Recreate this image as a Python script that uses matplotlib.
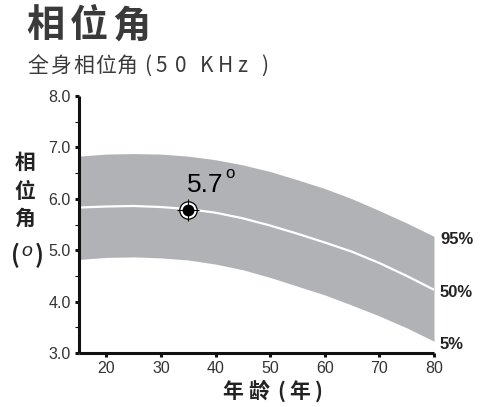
import matplotlib
matplotlib.use("Agg")
import matplotlib.pyplot as plt
from matplotlib.ticker import MultipleLocator, FixedLocator

# ---- data ----
ages = [15, 20, 25, 30, 35, 40, 45, 50, 55, 60, 65, 70, 75, 80]
p95 = [6.83, 6.87, 6.88, 6.87, 6.83, 6.76, 6.66, 6.53, 6.37, 6.20, 6.00, 5.77, 5.53, 5.27]
p50 = [5.83, 5.85, 5.86, 5.84, 5.80, 5.73, 5.62, 5.48, 5.32, 5.15, 4.97, 4.75, 4.50, 4.23]
p05 = [4.82, 4.86, 4.87, 4.85, 4.81, 4.73, 4.62, 4.47, 4.30, 4.13, 3.93, 3.72, 3.49, 3.23]
patient_age = 35
patient_value = 5.78
patient_label = "5.7"
pct_labels = ["95%", "50%", "5%"]
x_ticks = [20, 30, 40, 50, 60, 70, 80]
y_ticks = [3.0, 4.0, 5.0, 6.0, 7.0, 8.0]
y_ticklabels = ["3.0", "4.0", "5.0", "6.0", "7.0", "8.0"]

W, H = 480, 407
fig = plt.figure(figsize=(W / 100, H / 100), dpi=100)
CJK = ["Noto Sans CJK SC", "DejaVu Sans"]
LAT = ["Liberation Sans", "DejaVu Sans"]
TXT = "#3a3a3a"


def ptext(x, y, s, **kw):
    kw.setdefault("ha", "center")
    kw.setdefault("va", "center")
    fig.text(x / W, 1 - y / H, s, **kw)


# title
for cx, ch in zip([45.5, 89.5, 131.5], "相位角"):
    ptext(cx, 26, ch, fontsize=27.5, fontweight="bold", family=CJK, color=TXT)

# subtitle
sub_chars = list("全身相位角") + list("(50KHz)")
sub_x = [38.3, 61, 83.3, 106, 127.5, 148, 161.7, 181, 206.7, 225, 242.5, 265]
for cx, ch in zip(sub_x, sub_chars):
    ptext(cx, 66, ch, fontsize=15, fontweight="medium", family=CJK, color=TXT)

# y label (vertical)
for cy, ch in zip([162.5, 191, 218], "相位角"):
    ptext(25, cy, ch, fontsize=15, fontweight="bold", family=CJK, color="#222222")
ptext(15, 255, "(", fontsize=17, fontweight="bold", family=CJK, color="#222222")
ptext(27, 252, "o", fontsize=14, fontweight="regular", style="italic",
      family=LAT, color="#222222")
ptext(39, 255, ")", fontsize=17, fontweight="bold", family=CJK, color="#222222")

# x label
for cx, ch in zip([232.5, 259, 281, 300, 318.5], "年龄(年)"):
    ptext(cx, 391.5, ch, fontsize=15, fontweight="bold", family=CJK, color="#222222")

# ---- axes ----
ax = fig.add_axes([79 / W, 1 - 353 / H, (434 - 79) / W, (353 - 96) / H])
ax.fill_between(ages, p05, p95, color="#b1b2b6", lw=0, zorder=1)
ax.plot(ages, p50, color="white", lw=1.6, zorder=2, solid_capstyle="butt")

# patient marker
ax.plot([patient_age], [patient_value], marker="o", ms=12.5, mfc="white",
        mec="black", mew=0.9, ls="none", zorder=4)
ax.plot([patient_age], [patient_value], marker="o", ms=8.5, mfc="black",
        mec="black", mew=0, ls="none", zorder=5)
ax.plot([patient_age], [patient_value], marker="+", ms=16, mec="black",
        mew=0.8, ls="none", zorder=6)
ax.annotate(patient_label, (patient_age, patient_value), xytext=(17, 25),
            textcoords="offset pixels", ha="center", va="center",
            fontsize=19, family=LAT, color="black", zorder=7)
ax.annotate("o", (patient_age, patient_value), xytext=(41.8, 37),
            textcoords="offset pixels", ha="center", va="center",
            fontsize=12, family=LAT, color="black", zorder=7)

# percentile labels
for lab, series in zip(pct_labels, [p95, p50, p05]):
    ax.annotate(lab, (ages[-1], series[-1]), xytext=(6, -3),
                textcoords="offset pixels", ha="left", va="center",
                fontsize=12, fontweight="bold", family=LAT, color="#222222",
                annotation_clip=False)

ax.set_xlim(15, 80)
ax.set_ylim(3.0, 8.0)
ax.xaxis.set_major_locator(FixedLocator(x_ticks))
ax.yaxis.set_major_locator(FixedLocator(y_ticks))
ax.set_yticklabels(y_ticklabels)
ax.yaxis.set_minor_locator(MultipleLocator(0.5))

for s in ["top", "right"]:
    ax.spines[s].set_visible(False)
for s in ["left", "bottom"]:
    ax.spines[s].set_linewidth(2.2)
    ax.spines[s].set_color("#111111")
    ax.spines[s].set_capstyle("butt")

ax.tick_params(axis="both", which="major", direction="out", length=3,
               width=2.2, color="#111111", labelsize=11.5, labelcolor="#333333", pad=3)
ax.tick_params(axis="y", which="minor", direction="out", length=3,
               width=0.8, color="#111111")
for lab in ax.get_xticklabels() + ax.get_yticklabels():
    lab.set_family(LAT)

fig.savefig("out.png", dpi=100)
